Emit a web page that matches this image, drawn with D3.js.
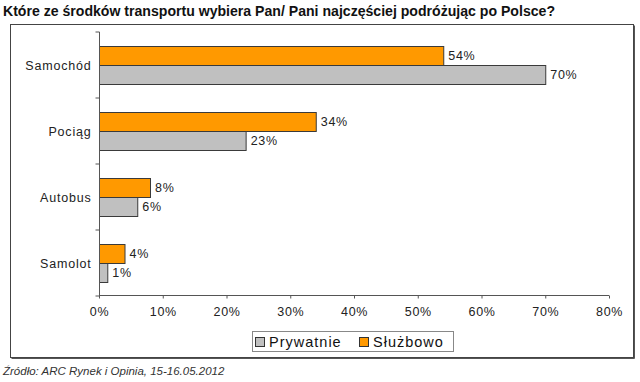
<!DOCTYPE html>
<html>
<head>
<meta charset="utf-8">
<script src="https://cdn.jsdelivr.net/npm/d3@7"></script>
<style>
  html, body { margin: 0; padding: 0; background: #fff; }
  svg { display: block; font-family: Arial, "Liberation Sans", sans-serif; }
</style>
</head>
<body>
<svg id="chart" width="640" height="382"></svg>
<script>
const title = "Które ze środków transportu wybiera Pan/ Pani najczęściej podróżując po Polsce?";
const source = "Źródło: ARC Rynek i Opinia, 15-16.05.2012";
const categories = ["Samochód", "Pociąg", "Autobus", "Samolot"];
const seriesNames = ["Służbowo", "Prywatnie"];
const sluzbowo = [54, 34, 8, 4];
const prywatnie = [70, 23, 6, 1.3];
const xTicks = [0, 10, 20, 30, 40, 50, 60, 70, 80];
const legendOrder = ["Prywatnie", "Służbowo"];
const colors = { "Służbowo": "#FF9900", "Prywatnie": "#C0C0C0" };

const values = { "Służbowo": sluzbowo, "Prywatnie": prywatnie };

const svg = d3.select("#chart");

// title
svg.append("text")
  .attr("x", 3).attr("y", 16)
  .attr("font-size", 14).attr("font-weight", "bold")
  .attr("fill", "#111")
  .attr("textLength", 552).attr("lengthAdjust", "spacingAndGlyphs")
  .text(title);

// outer frame
svg.append("rect")
  .attr("x", 10.5).attr("y", 24.5).attr("width", 623).attr("height", 333)
  .attr("fill", "none").attr("stroke", "#444").attr("stroke-width", 1);
svg.append("path")
  .attr("d", "M634.5,25.5 V358.5 H11.5")
  .attr("fill", "none").attr("stroke", "#555").attr("stroke-width", 1);

const x = d3.scaleLinear().domain([0, 80]).range([99, 609]);
const y = d3.scaleBand().domain(categories).range([32, 296]);
const ySub = d3.scaleBand().domain(seriesNames).range([0, y.bandwidth()])
  .paddingInner(0).paddingOuter(0.737);

// bars
const g = svg.append("g");
categories.forEach((c, i) => {
  seriesNames.forEach(s => {
    const v = values[s][i];
    const by = y(c) + ySub(s);
    g.append("rect")
      .attr("x", x(0) + 0.5)
      .attr("y", by + 0.5)
      .attr("width", x(v) - x(0))
      .attr("height", ySub.bandwidth())
      .attr("fill", colors[s])
      .attr("stroke", "#3a3a3a").attr("stroke-width", 1);
    g.append("text")
      .attr("x", x(v) + 5)
      .attr("y", by + ySub.bandwidth() / 2 + 4.5)
      .attr("font-size", 12.5).attr("letter-spacing", 0.7)
      .attr("fill", "#222")
      .text(Math.round(v) + "%");
  });
});

// x axis
const xAxis = d3.axisBottom(x).tickValues(xTicks).tickSize(3).tickPadding(9)
  .tickFormat(d => d + "%");
const xg = svg.append("g").attr("transform", "translate(0,295.5)").call(xAxis);
xg.select(".domain").attr("stroke", "#555").attr("d", "M99,0H609");
xg.selectAll(".tick line").attr("stroke", "#555");
xg.selectAll(".tick text").attr("font-size", 12.5).attr("letter-spacing", 0.6)
  .attr("fill", "#222").attr("font-family", "Arial, 'Liberation Sans', sans-serif");

// y axis
const yAxis = d3.axisLeft(y).tickSize(0).tickPadding(8);
const yg = svg.append("g").attr("transform", "translate(99.5,0)").call(yAxis);
yg.select(".domain").attr("stroke", "#555").attr("d", "M0,32V296");
yg.selectAll(".tick text").attr("font-size", 12.5).attr("letter-spacing", 0.8)
  .attr("fill", "#222").attr("dy", "0.4em")
  .attr("font-family", "Arial, 'Liberation Sans', sans-serif");
// category separator ticks
const bounds = [32].concat(categories.map(c => y(c) + y.bandwidth()));
yg.selectAll(".sep").data(bounds).enter().append("line")
  .attr("x1", -4).attr("x2", 0)
  .attr("y1", d => d).attr("y2", d => d)
  .attr("stroke", "#555");

// legend
const lg = svg.append("g");
lg.append("rect").attr("x", 252.5).attr("y", 331.5).attr("width", 201).attr("height", 20)
  .attr("fill", "#fff").attr("stroke", "#888");
const legendX = [255, 359];
legendOrder.forEach((s, i) => {
  lg.append("rect").attr("x", legendX[i] + 0.5).attr("y", 337.5).attr("width", 9).attr("height", 9)
    .attr("fill", colors[s]).attr("stroke", "#333");
  lg.append("text").attr("x", legendX[i] + 14).attr("y", 347)
    .attr("font-size", 14.5).attr("letter-spacing", 1)
    .attr("fill", "#111").text(s);
});

// source
svg.append("text")
  .attr("x", 3).attr("y", 375)
  .attr("font-size", 11.5).attr("font-style", "italic")
  .attr("fill", "#333")
  .text(source);
</script>
</body>
</html>
